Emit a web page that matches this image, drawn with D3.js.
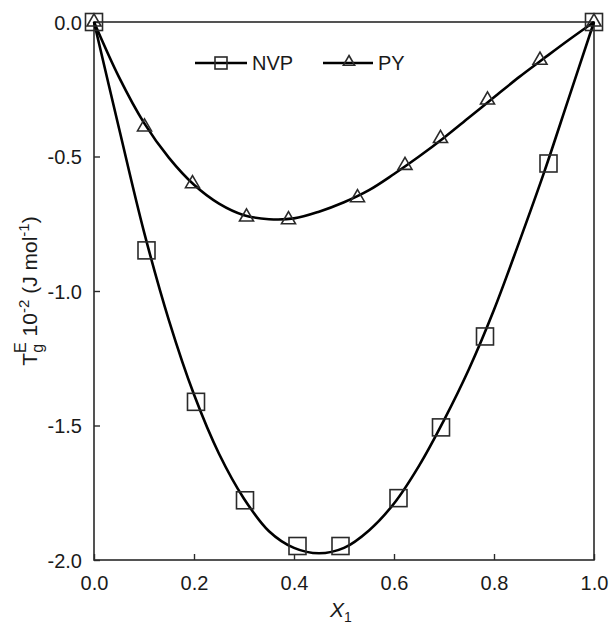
<!DOCTYPE html>
<html>
<head>
<meta charset="utf-8">
<style>
  body { margin: 0; background: #fff; }
  text { font-family: "Liberation Sans", Arial, sans-serif; fill: #1a1a1a; }
</style>
</head>
<body>
<div id="chart"></div>
<script src="https://cdnjs.cloudflare.com/ajax/libs/d3/7.8.5/d3.min.js"></script>
<script>
  var nvpX = [0.0, 0.105, 0.204, 0.302, 0.407, 0.493, 0.609, 0.694, 0.782, 0.909, 1.0];
  var nvpY = [0.0, -0.849, -1.412, -1.778, -1.948, -1.948, -1.770, -1.507, -1.169, -0.526, 0.0];
  var pyX = [0.0, 0.101, 0.197, 0.305, 0.389, 0.527, 0.622, 0.693, 0.787, 0.892, 1.0];
  var pyY = [0.0, -0.39, -0.601, -0.725, -0.735, -0.653, -0.533, -0.433, -0.29, -0.142, 0.0];

  // fitted curves
  var fitX = [0, 0.05, 0.1, 0.15, 0.2, 0.25, 0.3, 0.35, 0.4, 0.45, 0.5, 0.55, 0.6, 0.65, 0.7, 0.75, 0.8, 0.85, 0.9, 0.95, 1.0];
  var nvpFit = [0, -0.395, -0.78, -1.11, -1.385, -1.605, -1.772, -1.893, -1.955, -1.975, -1.955, -1.89, -1.79, -1.65, -1.48, -1.29, -1.07, -0.82, -0.56, -0.28, 0];
  var pyFit = [0, -0.205, -0.375, -0.505, -0.605, -0.675, -0.718, -0.733, -0.73, -0.705, -0.67, -0.625, -0.565, -0.5, -0.43, -0.355, -0.28, -0.205, -0.135, -0.066, 0];

  var xTicks = [0, 0.2, 0.4, 0.6, 0.8, 1.0];
  var yTicks = [0, -0.5, -1.0, -1.5, -2.0];

  var W = 611, H = 632;
  // plot box (don't call these top/left, window.top is read-only)
  var pL = 94, pR = 594, pT = 22, pB = 560;

  var svg = d3.select("#chart").append("svg").attr("width", W).attr("height", H);

  var x = d3.scaleLinear().domain([0, 1]).range([pL, pR]);
  var y = d3.scaleLinear().domain([-2, 0]).range([pB, pT]);

  // plain hyphen for negatives, like the original
  var fmt = function (d) { return d3.format(".1f")(d).replace("\u2212", "-"); };

  // frame
  svg.append("rect")
    .attr("x", pL).attr("y", pT)
    .attr("width", pR - pL).attr("height", pB - pT)
    .attr("fill", "none").attr("stroke", "#2a2a2a").attr("stroke-width", 1.6);

  // axes, ticks point inward
  var xAxis = d3.axisBottom(x).tickValues(xTicks).tickFormat(fmt)
    .tickSizeInner(-6).tickSizeOuter(0).tickPadding(16);
  var gx = svg.append("g").attr("transform", "translate(0," + pB + ")").call(xAxis);

  var yAxis = d3.axisLeft(y).tickValues(yTicks).tickFormat(fmt)
    .tickSizeInner(-6).tickSizeOuter(0).tickPadding(12);
  var gy = svg.append("g").attr("transform", "translate(" + pL + ",0)").call(yAxis);

  [gx, gy].forEach(function (g) {
    g.select(".domain").remove();
    g.selectAll("line").attr("stroke", "#2a2a2a").attr("stroke-width", 1.4);
    g.selectAll("text").attr("font-size", 20).attr("fill", "#1a1a1a")
      .attr("font-family", "'Liberation Sans', Arial, sans-serif");
  });
  gy.selectAll("text").attr("dy", "0.36em");

  // fitted lines
  var line = d3.line().x(function (d) { return x(d[0]); }).y(function (d) { return y(d[1]); })
    .curve(d3.curveCatmullRom.alpha(0.5));

  svg.append("path").datum(d3.zip(fitX, nvpFit))
    .attr("d", line).attr("fill", "none").attr("stroke", "#000").attr("stroke-width", 2.6);
  svg.append("path").datum(d3.zip(fitX, pyFit))
    .attr("d", line).attr("fill", "none").attr("stroke", "#000").attr("stroke-width", 2.6);

  // markers
  var sq = 17;
  svg.append("g").selectAll("rect").data(d3.zip(nvpX, nvpY)).join("rect")
    .attr("x", function (d) { return x(d[0]) - sq / 2; })
    .attr("y", function (d) { return y(d[1]) - sq / 2; })
    .attr("width", sq).attr("height", sq)
    .attr("fill", "none").attr("stroke", "#2a2a2a").attr("stroke-width", 1.6);

  var tri = d3.symbol().type(d3.symbolTriangle).size(85);
  svg.append("g").selectAll("path").data(d3.zip(pyX, pyY)).join("path")
    .attr("d", tri)
    .attr("transform", function (d) { return "translate(" + x(d[0]) + "," + y(d[1]) + ")"; })
    .attr("fill", "none").attr("stroke", "#2a2a2a").attr("stroke-width", 1.6);

  // legend
  var leg = svg.append("g");
  leg.append("line").attr("x1", 195).attr("x2", 247).attr("y1", 63).attr("y2", 63)
    .attr("stroke", "#000").attr("stroke-width", 2.6);
  leg.append("rect").attr("x", 221 - 6).attr("y", 63 - 6).attr("width", 12).attr("height", 12)
    .attr("fill", "none").attr("stroke", "#2a2a2a").attr("stroke-width", 1.6);
  leg.append("text").attr("x", 252).attr("y", 63).attr("dy", "0.36em")
    .attr("font-size", 20).text("NVP");
  leg.append("line").attr("x1", 323).attr("x2", 373).attr("y1", 63).attr("y2", 63)
    .attr("stroke", "#000").attr("stroke-width", 2.6);
  leg.append("path").attr("d", d3.symbol().type(d3.symbolTriangle).size(55))
    .attr("transform", "translate(349,62)")
    .attr("fill", "none").attr("stroke", "#2a2a2a").attr("stroke-width", 1.6);
  leg.append("text").attr("x", 378).attr("y", 63).attr("dy", "0.36em")
    .attr("font-size", 20).text("PY");

  // x label
  var xl = svg.append("text").attr("x", 341).attr("y", 617).attr("text-anchor", "middle")
    .attr("font-size", 21);
  xl.append("tspan").attr("font-style", "italic").text("X");
  xl.append("tspan").attr("font-size", 14).attr("dy", 5).text("1");

  // y label
  var yl = svg.append("text").attr("transform", "translate(37,291) rotate(-90)")
    .attr("text-anchor", "middle").attr("font-size", 21);
  yl.append("tspan").text("T");
  yl.append("tspan").attr("font-size", 16).attr("dy", 6).text("g");
  yl.append("tspan").attr("font-size", 16).attr("dx", -9).attr("dy", -17).text("E");
  yl.append("tspan").attr("dy", 11).text(" 10");
  yl.append("tspan").attr("font-size", 15).attr("dy", -8).text("-2");
  yl.append("tspan").attr("dy", 8).text(" (J mol");
  yl.append("tspan").attr("font-size", 15).attr("dy", -8).text("-1");
  yl.append("tspan").attr("dy", 8).text(")");
</script>
</body>
</html>
